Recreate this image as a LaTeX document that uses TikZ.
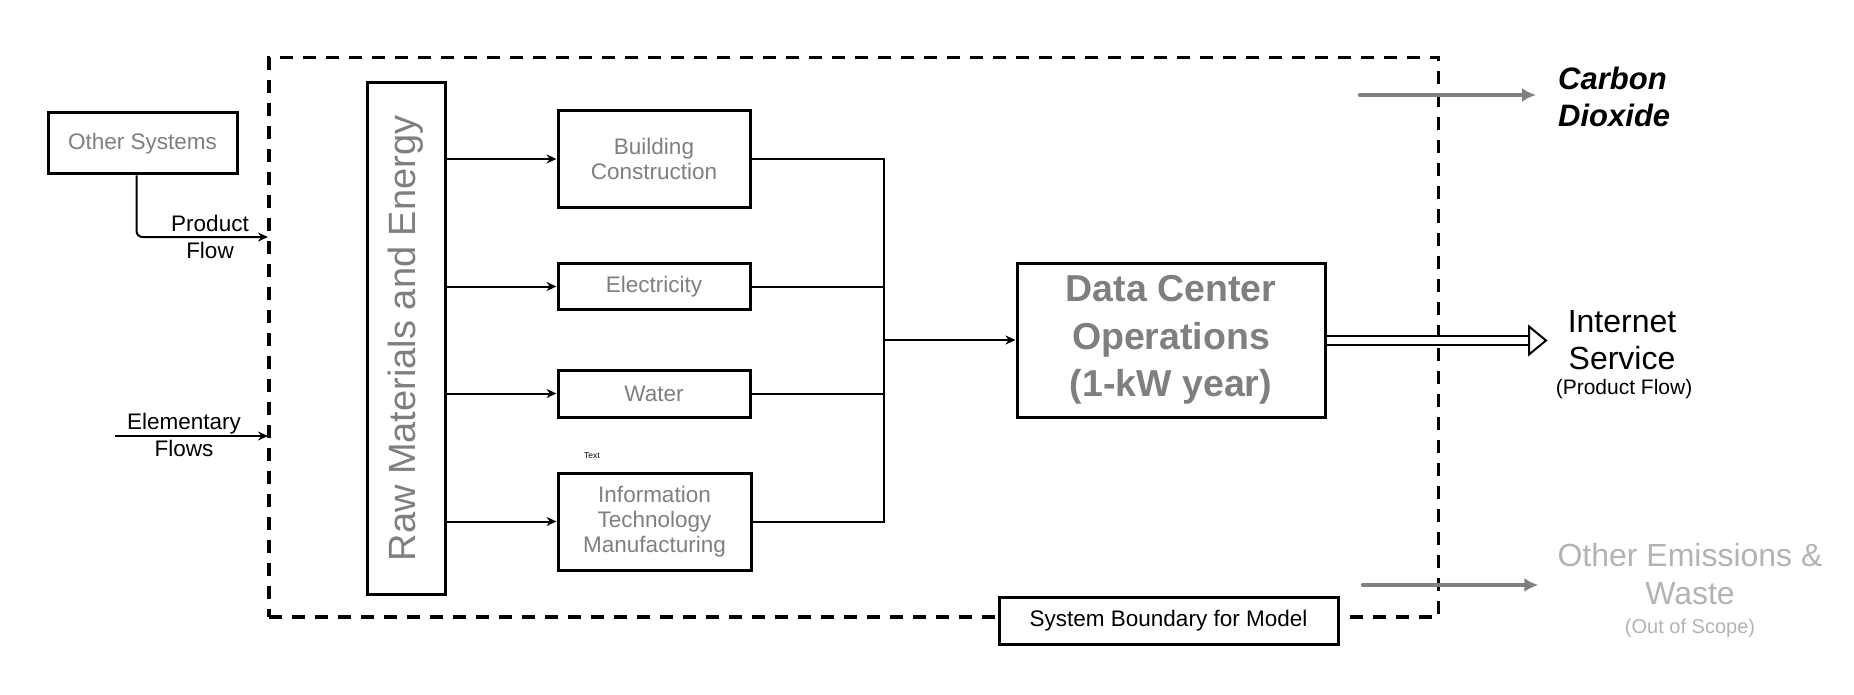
\documentclass[tikz,border=0pt]{standalone}
\usepackage{fontspec}
\setmainfont{Liberation Sans}
\usetikzlibrary{arrows.meta}
\definecolor{txtgray}{HTML}{7F7F7F}
\definecolor{arrgray}{HTML}{808080}
\definecolor{lightgraytxt}{HTML}{B3B3B3}
\begin{document}
\begin{tikzpicture}[x=1pt,y=-1pt,
  box/.style={draw, line width=3pt, fill=white, inner sep=0pt, align=center,
    font=\fontsize{22.5}{25}\selectfont, text=txtgray},
  conn/.style={line width=2pt},
  arr/.style={conn, -{Stealth[length=10pt,width=9pt]}},
  grayarr/.style={line width=4.5pt, draw=arrgray, line cap=round, -{Latex[length=14pt,width=14pt]}},
  lbl/.style={align=center, inner sep=0pt, font=\fontsize{22.5}{27}\selectfont},
  boundary/.style={draw, line width=3.5pt, dash pattern=on 13pt off 10pt, inner sep=0pt}]
\useasboundingbox (0,0) rectangle (1854,695);

% system boundary
\node[boundary, minimum width=1169.5pt, minimum height=559.5pt] (bnd) at (853.75,337.25) {};

% other systems
\node[box, minimum width=189pt, minimum height=61pt] (os) at (142.5,143.5) {Other Systems};
\coordinate (pfend) at (268,237);
\draw[arr, rounded corners=6pt] ([xshift=-6pt]os.south) |- (pfend);
\node[lbl] (pf) at (210,236.5) {Product\\Flow};

\coordinate (efstart) at (115,436);
\coordinate (efend) at (268,436);
\draw[arr] (efstart) -- (efend);
\node[lbl] (ef) at (184,434.5) {Elementary\\Flows};

% raw materials
\node[box, minimum width=78pt, minimum height=511pt, font=\fontsize{38}{40}\selectfont] (raw) at (406,338.5) {\rotatebox{90}{Raw Materials and Energy}};

% inputs
\node[box, minimum width=192pt, minimum height=96pt] (bc) at (654,159) {Building\\Construction};
\node[box, minimum width=192pt, minimum height=46pt] (el) at (654,286.5) {Electricity};
\node[box, minimum width=192pt, minimum height=47pt] (wa) at (654,393.5) {Water};
\node[box, minimum width=193pt, minimum height=97pt] (it) at (654.5,521.5) {Information\\Technology\\Manufacturing};
\node[font=\fontsize{8.5}{10}\selectfont, inner sep=0pt] (txt) at (592,456) {Text};

\draw[arr] (raw.east |- bc.west) -- (bc.west);
\draw[arr] (raw.east |- el.west) -- (el.west);
\draw[arr] (raw.east |- wa.west) -- (wa.west);
\draw[arr] (raw.east |- it.west) -- (it.west);

% data center
\node[box, minimum width=308pt, minimum height=154pt, font=\bfseries\fontsize{37.5}{47.5}\selectfont] (dc) at (1171,340) {Data Center\\Operations\\(1-kW year)};

\coordinate (bus) at (884,340);
\draw[conn] (bc.east) -- (bc.east -| bus) -- (it.east -| bus) -- (it.east);
\draw[conn] (el.east) -- (el.east -| bus);
\draw[conn] (wa.east) -- (wa.east -| bus);
\draw[arr] (bus) -- (dc.west);

% system boundary label
\node[box, text=black, minimum width=339pt, minimum height=47pt] (sb) at (1168.5,620.5) {System Boundary for Model};

% internet service
\node[lbl, font=\fontsize{32}{37}\selectfont] (inet) at (1622,340.5) {Internet\\Service};
\node[lbl, font=\fontsize{21}{24}\selectfont] (pfl) at (1624,389) {(Product Flow)};
\coordinate (dctip) at (1546,340.5);
\draw[line width=2pt, double, double distance=7pt] (dc.east |- dctip) -- ([xshift=-17pt]dctip);
\draw[line width=2pt, fill=white, line join=miter] ([shift={(-17pt,-14pt)}]dctip) -- (dctip) -- ([shift={(-17pt,14pt)}]dctip) -- cycle;

% carbon dioxide
\node[lbl, anchor=west, align=left, font=\bfseries\itshape\fontsize{31}{37}\selectfont] (co2) at (1558,96.5) {Carbon\\Dioxide};
\coordinate (co2start) at (1360,95);
\draw[grayarr] (co2start) -- ([xshift=-22pt]co2start -| co2.west);

% other emissions
\node[lbl, text=lightgraytxt, font=\fontsize{32}{38}\selectfont] (oe) at (1690,574) {Other Emissions \&\\Waste};
\node[lbl, text=lightgraytxt, font=\fontsize{20}{24}\selectfont] (oos) at (1690,628) {(Out of Scope)};
\coordinate (oestart) at (1363,585);
\draw[grayarr] (oestart) -- ([xshift=-19pt]oestart -| oe.west);
\end{tikzpicture}
\end{document}
